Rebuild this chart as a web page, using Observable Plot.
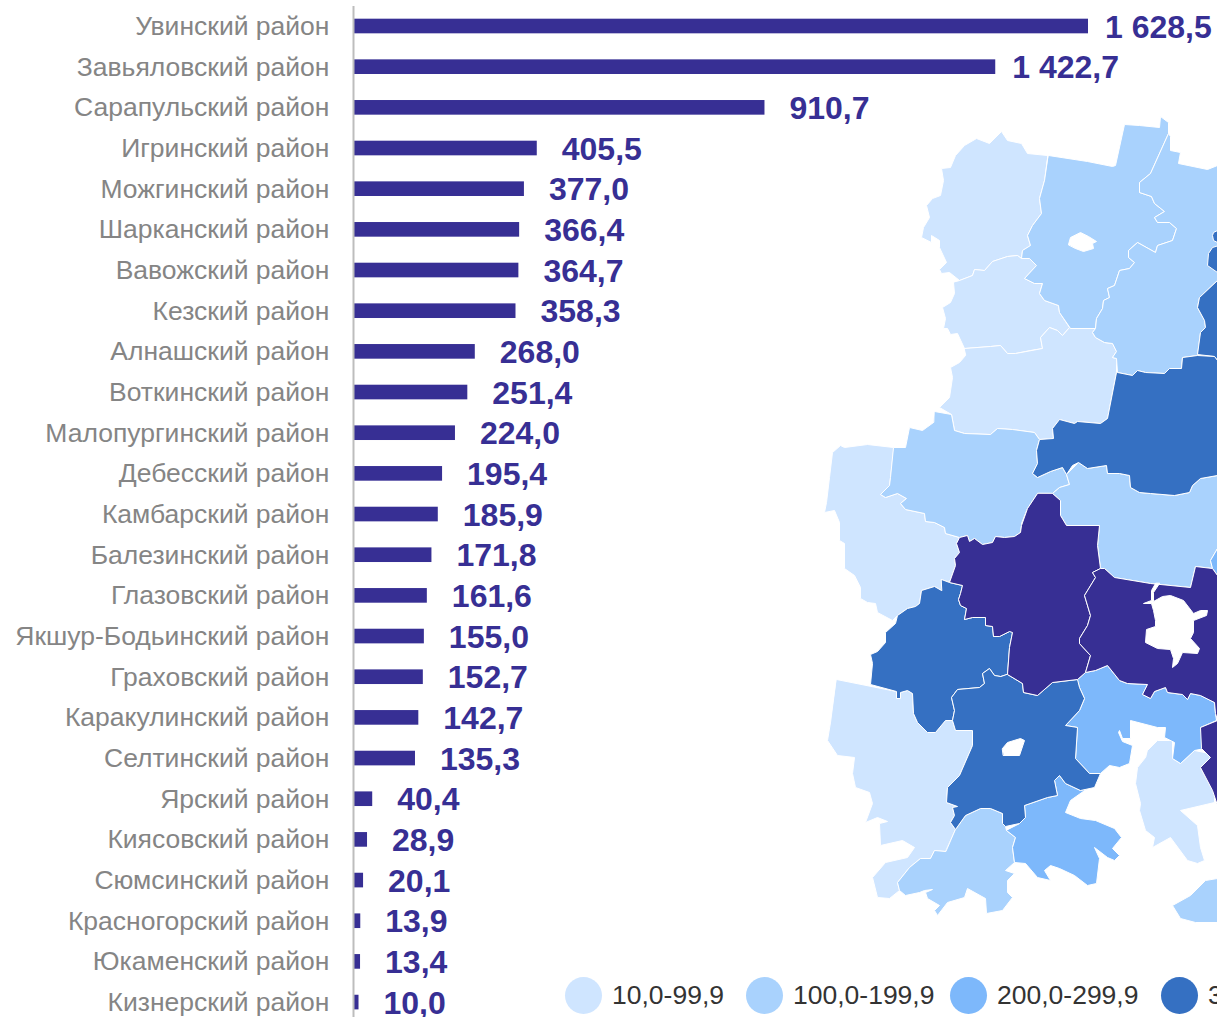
<!DOCTYPE html>
<html lang="ru">
<head>
<meta charset="utf-8">
<script src="https://cdn.jsdelivr.net/npm/d3@7"></script>
<script src="https://cdn.jsdelivr.net/npm/@observablehq/plot@0.6"></script>
<style>
  html, body { margin: 0; padding: 0; background: #fff; }
  #page { position: relative; width: 1217px; height: 1017px; overflow: hidden; font-family: "Liberation Sans", Arial, sans-serif; }
  #page svg { position: absolute; left: 0; top: 0; }
  #legend { position: absolute; left: 565px; top: 977px; height: 37px; display: flex; white-space: nowrap; font-size: 26.5px; color: #333; }
  #legend .item { display: flex; align-items: center; flex: none; }
  #legend .swatch { width: 37px; height: 37px; border-radius: 50%; margin-right: 10px; flex: none; }
</style>
</head>
<body>
<div id="page"></div>
<script>
const districts = ["Увинский район","Завьяловский район","Сарапульский район","Игринский район","Можгинский район","Шарканский район","Вавожский район","Кезский район","Алнашский район","Воткинский район","Малопургинский район","Дебесский район","Камбарский район","Балезинский район","Глазовский район","Якшур-Бодьинский район","Граховский район","Каракулинский район","Селтинский район","Ярский район","Киясовский район","Сюмсинский район","Красногорский район","Юкаменский район","Кизнерский район"];
const values = [1628.5,1422.7,910.7,405.5,377.0,366.4,364.7,358.3,268.0,251.4,224.0,195.4,185.9,171.8,161.6,155.0,152.7,142.7,135.3,40.4,28.9,20.1,13.9,13.4,10.0];

const legendLabels = ["10,0-99,9","100,0-199,9","200,0-299,9","300,0-399,9"];
const legendColors = ["#cfe5ff","#a9d2fd","#7db8fb","#3570c2"];
const legendWidths = [181,204,211,200];
const topColor = "#372f94";

// Region outlines of the map
const shapeA = [[1047,155],[1027,153],[1021,143],[1007,140],[1001,131],[989,143],[976,138],[964,145],[955,155],[950,167],[941,168],[943,180],[940,195],[932,198],[926,205],[929,217],[923,227],[921,237],[931,242],[931,235],[939,240],[939,247],[946,262],[939,269],[941,273],[949,272],[959,280],[972,275],[974,269],[984,270],[992,261],[1007,256],[1017,255],[1021,258],[1022,250],[1030,245],[1027,235],[1032,225],[1041,213],[1039,198],[1044,180]];
const shapeB = [[1048,155],[1087,161],[1112,166],[1115,165],[1124,124],[1139,125],[1159,127],[1160,116],[1168,122],[1168,133],[1150,173],[1139,182],[1139,192],[1151,196],[1154,203],[1164,211],[1154,217],[1157,222],[1169,222],[1176,228],[1172,240],[1157,245],[1155,252],[1137,242],[1128,250],[1128,257],[1134,262],[1129,268],[1119,270],[1114,285],[1107,288],[1109,297],[1103,300],[1102,308],[1096,318],[1095,328],[1070,328],[1059,312],[1058,305],[1044,300],[1039,293],[1042,283],[1034,283],[1024,278],[1036,265],[1029,258],[1021,258],[1022,250],[1030,245],[1027,235],[1032,225],[1041,213],[1039,198],[1044,180]];
const shapeC = [[1168,133],[1170,136],[1170,150],[1180,152],[1178,163],[1207,169],[1217,165],[1225,165],[1225,280],[1217,280],[1199,297],[1197,307],[1204,320],[1205,327],[1200,332],[1197,355],[1182,357],[1181,368],[1169,368],[1164,373],[1145,372],[1137,370],[1132,375],[1117,372],[1116,358],[1112,357],[1116,351],[1112,343],[1104,342],[1095,337],[1092,332],[1095,328],[1096,318],[1102,308],[1103,300],[1109,297],[1107,288],[1114,285],[1119,270],[1129,268],[1134,262],[1128,257],[1128,250],[1137,242],[1155,252],[1157,245],[1172,240],[1176,228],[1169,222],[1157,222],[1154,217],[1164,211],[1154,203],[1151,196],[1139,192],[1139,182],[1150,173]];
const shapeD = [[1217,280],[1199,297],[1197,307],[1204,320],[1205,327],[1200,332],[1197,354],[1214,356],[1217,360],[1225,360],[1225,280]];
const shapeD2 = [[1212,235],[1213,232],[1217,230],[1225,230],[1225,242],[1217,242],[1213,240]];
const shapeD3 = [[1208,253],[1212,247],[1225,243],[1225,275],[1217,272],[1207,265]];
const shapeE = [[959,280],[972,275],[974,269],[984,270],[992,261],[1007,256],[1017,255],[1021,258],[1029,258],[1036,265],[1024,278],[1034,283],[1042,283],[1039,293],[1044,300],[1058,305],[1059,312],[1069,327],[1062,335],[1057,330],[1049,327],[1040,337],[1042,348],[1030,350],[1015,353],[1007,353],[1000,345],[990,346],[964,348],[957,333],[950,334],[947,328],[943,328],[945,318],[942,307],[950,302],[954,293],[953,282]];
const shapeF = [[964,348],[990,346],[1000,345],[1007,353],[1015,353],[1042,348],[1040,337],[1049,327],[1057,330],[1062,335],[1069,327],[1070,328],[1095,328],[1092,332],[1095,337],[1104,342],[1112,343],[1116,351],[1112,357],[1116,358],[1116,372],[1107,418],[1100,423],[1077,421],[1074,423],[1059,419],[1052,428],[1053,438],[1039,439],[1034,432],[1012,429],[997,428],[990,434],[964,433],[954,430],[951,414],[939,407],[949,397],[952,377],[950,367],[959,362],[965,355]];
const shapeG = [[1116,372],[1117,372],[1132,375],[1137,370],[1145,372],[1164,373],[1169,368],[1181,368],[1182,357],[1197,355],[1214,356],[1217,360],[1225,360],[1225,475],[1217,475],[1200,478],[1192,485],[1189,492],[1174,495],[1150,493],[1139,492],[1130,487],[1129,475],[1119,473],[1107,473],[1106,465],[1087,468],[1078,462],[1072,465],[1066,474],[1062,467],[1050,471],[1037,477],[1032,473],[1037,463],[1036,450],[1039,439],[1053,438],[1052,428],[1059,419],[1074,423],[1077,421],[1100,423],[1107,418]];
const shapeH = [[934,411],[951,414],[954,430],[964,433],[990,434],[997,428],[1012,429],[1034,432],[1039,439],[1036,450],[1037,463],[1032,473],[1037,477],[1050,471],[1062,467],[1066,474],[1069,484],[1059,487],[1052,493],[1037,493],[1027,508],[1021,523],[1021,525],[1020,532],[1014,536],[1004,537],[995,536],[992,542],[982,544],[974,538],[969,541],[967,535],[959,537],[945,533],[944,527],[934,522],[925,521],[924,513],[905,509],[900,503],[906,498],[897,493],[885,497],[880,494],[889,485],[890,477],[893,447],[905,447],[909,427],[922,430],[933,422]];
const shapeI = [[893,447],[867,444],[844,447],[840,445],[832,452],[829,477],[826,502],[824,512],[834,510],[839,522],[839,540],[844,543],[844,568],[854,575],[860,587],[860,598],[867,602],[875,603],[877,612],[892,620],[897,615],[907,608],[915,606],[919,603],[921,590],[934,586],[941,590],[941,579],[949,582],[955,565],[954,558],[959,552],[956,543],[959,537],[945,533],[944,527],[934,522],[925,521],[924,513],[905,509],[900,503],[906,498],[897,493],[885,497],[880,494],[889,485],[890,477]];
const shapeJ = [[1052,493],[1060,500],[1060,515],[1066,525],[1099,525],[1097,545],[1100,568],[1092,572],[1095,577],[1084,595],[1090,615],[1087,625],[1079,638],[1079,643],[1090,655],[1085,672],[1077,679],[1052,682],[1037,695],[1023,692],[1022,683],[1007,674],[1009,647],[1012,632],[1009,631],[999,636],[993,636],[992,626],[985,625],[985,617],[972,617],[964,619],[966,608],[960,605],[958,599],[960,593],[962,585],[949,582],[955,565],[954,558],[959,552],[956,543],[959,537],[967,535],[969,541],[974,538],[982,544],[992,542],[995,536],[1004,537],[1014,536],[1020,532],[1021,525],[1027,508],[1037,493]];
const shapeK = [[1100,568],[1104,568],[1114,577],[1150,583],[1190,587],[1195,566],[1212,568],[1217,575],[1225,575],[1225,720],[1217,720],[1215,713],[1214,702],[1200,695],[1190,693],[1187,699],[1182,694],[1167,692],[1165,687],[1154,691],[1150,698],[1142,694],[1147,684],[1127,683],[1119,680],[1107,665],[1095,670],[1085,672],[1090,655],[1079,643],[1079,638],[1087,625],[1090,615],[1084,595],[1095,577],[1092,572]];
const shapeL = [[1217,720],[1200,727],[1201,748],[1210,757],[1200,767],[1212,790],[1217,805],[1225,805],[1225,720]];
const shapeM = [[1066,474],[1078,462],[1087,468],[1106,465],[1107,473],[1119,473],[1129,475],[1130,487],[1139,492],[1150,493],[1174,495],[1189,492],[1192,485],[1200,478],[1217,475],[1225,475],[1225,545],[1217,548],[1210,560],[1212,568],[1195,566],[1190,587],[1150,583],[1114,577],[1104,568],[1100,568],[1097,545],[1099,525],[1066,525],[1060,515],[1060,500],[1052,493],[1059,487],[1069,484]];
const shapeN = [[1217,548],[1210,560],[1212,568],[1217,575],[1225,575],[1225,548]];
const shapeO = [[941,579],[949,582],[962,585],[960,593],[958,599],[960,605],[966,608],[964,619],[972,617],[985,617],[985,625],[992,626],[993,636],[999,636],[1009,631],[1017,632],[1012,632],[1009,647],[1007,674],[1000,676],[994,675],[989,668],[982,673],[984,683],[979,687],[957,689],[951,697],[954,710],[952,720],[945,720],[935,732],[927,732],[917,722],[913,713],[912,693],[907,690],[900,692],[900,698],[896,698],[896,691],[870,684],[872,663],[870,654],[877,651],[885,642],[885,632],[895,623],[897,615],[907,608],[915,606],[919,603],[921,590],[934,586],[941,590]];
const shapeP = [[1007,674],[1022,683],[1023,692],[1037,695],[1052,682],[1077,679],[1079,687],[1084,698],[1079,710],[1065,725],[1077,727],[1075,758],[1089,773],[1100,773],[1094,787],[1080,790],[1065,783],[1059,775],[1054,780],[1057,795],[1047,797],[1024,805],[1025,817],[1019,823],[1005,826],[1002,823],[1002,813],[990,808],[980,808],[965,815],[955,829],[950,822],[954,815],[952,807],[957,806],[946,802],[947,787],[959,775],[972,745],[972,730],[955,730],[952,720],[954,710],[951,697],[957,689],[979,687],[984,683],[982,673],[989,668],[994,675],[1000,676]];
const shapeQ = [[836,679],[896,691],[896,698],[900,698],[900,692],[907,690],[912,693],[913,713],[917,722],[927,732],[935,732],[945,720],[952,720],[955,730],[972,730],[972,745],[959,775],[947,787],[946,802],[957,806],[952,807],[954,815],[950,822],[955,829],[945,851],[934,850],[930,858],[920,858],[909,867],[897,882],[899,890],[889,898],[877,897],[872,877],[885,862],[907,857],[914,847],[902,840],[880,845],[879,823],[887,821],[877,817],[865,822],[872,803],[869,792],[855,787],[852,773],[854,757],[837,755],[827,740],[830,722]];
const shapeR = [[955,829],[965,815],[980,808],[990,808],[1002,813],[1002,823],[1005,826],[1006,830],[1015,837],[1012,847],[1014,862],[1005,870],[1014,873],[1007,880],[1007,892],[1012,897],[1002,910],[986,913],[985,898],[967,888],[964,897],[947,902],[937,915],[934,910],[939,905],[927,898],[925,892],[932,889],[924,890],[919,892],[905,895],[899,890],[897,882],[909,867],[920,858],[930,858],[934,850],[945,851]];
const shapeS = [[1019,823],[1025,817],[1024,805],[1047,797],[1057,795],[1054,780],[1059,775],[1065,783],[1080,790],[1087,788],[1070,800],[1065,812],[1080,818],[1095,820],[1114,828],[1121,837],[1112,848],[1119,855],[1114,860],[1107,857],[1094,847],[1099,858],[1096,883],[1087,885],[1074,875],[1059,868],[1050,865],[1044,870],[1050,880],[1037,877],[1025,863],[1014,862],[1012,847],[1015,837],[1006,830]];
const shapeT = [[1077,679],[1085,672],[1095,670],[1107,665],[1119,680],[1127,683],[1147,684],[1142,694],[1150,698],[1154,691],[1165,687],[1167,692],[1182,694],[1187,699],[1190,693],[1200,695],[1214,702],[1215,713],[1216,720],[1200,727],[1204,748],[1194,750],[1180,763],[1172,758],[1174,742],[1164,737],[1165,727],[1157,727],[1130,720],[1130,738],[1122,738],[1119,730],[1118,732],[1122,741],[1132,745],[1129,763],[1119,767],[1109,765],[1100,773],[1089,773],[1075,758],[1077,727],[1065,725],[1079,710],[1084,698],[1079,687]];
const shapeU = [[1147,750],[1157,740],[1172,740],[1172,758],[1180,763],[1194,750],[1209,753],[1210,758],[1200,767],[1214,793],[1214,802],[1180,810],[1197,825],[1200,847],[1204,860],[1197,863],[1187,860],[1170,837],[1152,847],[1154,837],[1145,830],[1139,810],[1140,803],[1135,783],[1137,767],[1145,757]];
const shapeV = [[1172,905],[1190,895],[1205,880],[1217,878],[1225,878],[1225,922],[1195,922],[1180,918]];
const cityGlazov = [[1068,244],[1070,237],[1080,232],[1088,236],[1096,241],[1092,243],[1093,248],[1083,251],[1075,248]];
const cityIzhevsk = [[1155,583],[1151,590],[1151,600],[1143,603],[1151,603],[1153,610],[1155,620],[1155,626],[1146,629],[1145,642],[1157,648],[1170,649],[1173,658],[1172,667],[1177,663],[1182,652],[1197,653],[1199,648],[1190,638],[1193,632],[1193,620],[1206,615],[1207,610],[1200,610],[1193,613],[1183,600],[1170,595],[1162,596],[1153,601],[1153,592],[1159,583]];
const cityMozhga = [[1002,748],[1007,742],[1020,738],[1024,740],[1019,755],[1003,755]];

const tier0 = [shapeA, shapeE, shapeF, shapeI, shapeQ, shapeU];
const tier1 = [shapeB, shapeC, shapeH, shapeM, shapeR, shapeV];
const tier2 = [shapeN, shapeS, shapeT];
const tier3 = [shapeD, shapeD2, shapeD3, shapeG, shapeO, shapeP];
const tier4 = [shapeJ, shapeK, shapeL];
const cities = [cityGlazov, cityIzhevsk, cityMozhga];

const feature = (shape, fill) => ({type: "Feature", properties: {fill}, geometry: {type: "Polygon", coordinates: [[...shape, shape[0]]]}});
const features = [
  ...tier0.map(s => feature(s, legendColors[0])),
  ...tier1.map(s => feature(s, legendColors[1])),
  ...tier2.map(s => feature(s, legendColors[2])),
  ...tier3.map(s => feature(s, legendColors[3])),
  ...tier4.map(s => feature(s, topColor)),
  ...cities.map(s => feature(s, "#ffffff"))
];

const rows = districts.map((district, i) => ({district, value: values[i]}));
const fmt = d3.formatLocale({decimal: ",", thousands: " ", grouping: [3]}).format(",.1f");
const font = '"Liberation Sans", Arial, sans-serif';

const bars = Plot.plot({
  width: 1217, height: 1017,
  marginLeft: 354, marginRight: 0, marginTop: 6, marginBottom: 0,
  style: {fontFamily: font, background: "transparent"},
  x: {domain: [0, 1628.5], range: [354, 1088], axis: null},
  y: {domain: districts, range: [5.67, 1022.4], paddingInner: 0.64, paddingOuter: 0.32, round: false, label: null},
  marks: [
    Plot.axisY({tickSize: 0, tickPadding: 25, fontSize: 26.5, fill: "#858585", label: null}),
    Plot.barX(rows, {x: "value", y: "district", fill: topColor}),
    Plot.ruleX([0], {stroke: "#bdbdbd", strokeWidth: 2, dx: -1}),
    Plot.text(rows.filter(d => d.value > 1000), {x: "value", y: "district", text: d => fmt(d.value), textAnchor: "start", dx: 16.5, dy: 1, fontSize: 32, fontWeight: "bold", fill: topColor}),
    Plot.text(rows.filter(d => d.value <= 1000), {x: "value", y: "district", text: d => fmt(d.value), textAnchor: "start", dx: 24.5, dy: 1, fontSize: 32, fontWeight: "bold", fill: topColor})
  ]
});

const map = Plot.plot({
  width: 1217, height: 1017,
  margin: 0,
  style: {background: "transparent"},
  projection: {type: "identity"},
  marks: [
    Plot.geo(features, {fill: d => d.properties.fill, stroke: "#ffffff", strokeWidth: 1})
  ]
});

const page = document.getElementById("page");
page.append(bars, map);

const legend = document.createElement("div");
legend.id = "legend";
legendLabels.forEach((label, i) => {
  const item = document.createElement("div");
  item.className = "item";
  item.style.width = legendWidths[i] + "px";
  const swatch = document.createElement("span");
  swatch.className = "swatch";
  swatch.style.background = legendColors[i];
  item.append(swatch, document.createTextNode(label));
  legend.append(item);
});
page.append(legend);
</script>
</body>
</html>
